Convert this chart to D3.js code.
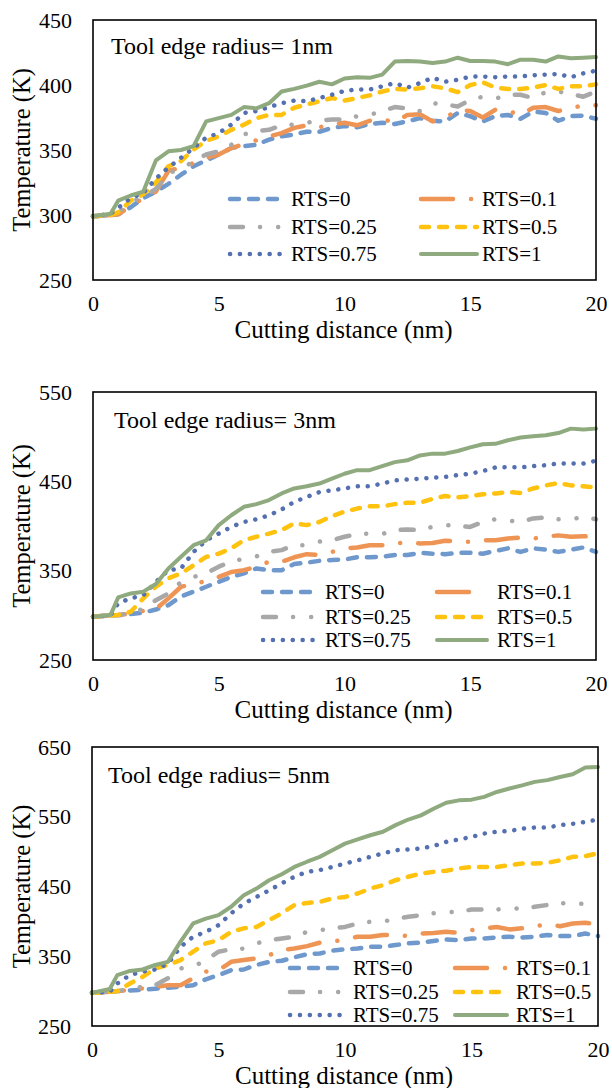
<!DOCTYPE html>
<html>
<head>
<meta charset="utf-8">
<script src="https://cdn.jsdelivr.net/npm/d3@7"></script>
<style>
  html, body { margin: 0; padding: 0; background: #fff; }
  svg { display: block; }
  text { font-family: "Liberation Serif", "Times New Roman", serif; fill: #000; }
</style>
</head>
<body>
<svg id="chart" width="612" height="1088"></svg>
<script>
// ---------------- DATA ----------------
const xValues = [0,0.7,1,1.5,2,2.5,3,3.5,4,4.5,5,5.5,6,6.5,7,7.5,8,8.5,9,9.5,10,10.5,11,11.5,12,12.5,13,13.5,14,14.5,15,15.5,16,16.5,17,17.5,18,18.5,19,19.5,20];
const seriesNames = ["RTS=0","RTS=0.1","RTS=0.25","RTS=0.5","RTS=0.75","RTS=1"];
const xTicks = [0,5,10,15,20];
const panelTitles = ["Tool edge radius= 1nm","Tool edge radius= 3nm","Tool edge radius= 5nm"];
const r1Ticks = [250,300,350,400,450];
const r3Ticks = [250,350,450,550];
const r5Ticks = [250,350,450,550,650];

// Tool edge radius = 1 nm
const r1_RTS0   = [299,300,300.5,306,313,318,324,331,337.5,342,346.5,351.5,353,354,358,360.5,362,364,364,367,368.5,367.5,370,371,370,372,374.5,372.5,372,378.5,376,372,376,377,374,379.5,378.5,372.5,376,376.5,374];
const r1_RTS01  = [299,300,300.5,307,313,318,334,336.5,340,344,346.5,351.5,354.5,357.5,360.5,363,367,369,367.5,369.5,371,369,372.5,373.5,371.5,377,377.5,372,374.5,381,380,375,381,380,377,382.5,383,380,382,384.5,384.5];
const r1_RTS025 = [299,300,302,310,314,320,332.5,335,341.5,346.5,349,354,362,364.5,365.5,369,369.5,371,372.5,373.5,373.5,376,377,380,383,382,380,386,385,383.5,388.5,391,389.5,392.5,392.5,390,394.5,395,393,391,395];
const r1_RTS05  = [299,300,302,311,316,325,337.5,341.5,350.5,357,360.5,365.5,369.5,374.5,377,377,382.5,385,387.5,390,388,390,392,395,397,396.5,397.5,399,397.5,394.5,400,402,398,397,397,398,400,397,399,399,400.5];
const r1_RTS075 = [299,301,305.5,313,317,328,336.5,344,351.5,359.5,363,369.5,378.5,380,383,386,388,387.5,390,392.5,395.5,396.5,396.5,399,401.5,398,401.5,405.5,402.5,404,406.5,406.5,406,406.5,406.5,407.5,408,408.5,406,409,411];
const r1_RTS1   = [299,301,311,315,318,342,349,350,353,372,374.5,377,383,382,386,395,397,399.5,402.5,400.5,405,406,405.5,408,418,418.5,418,417,418,421,418.5,418.5,418,416,419.5,419.5,418,422,420.5,421,421.5];

// Tool edge radius = 3 nm
const r3_RTS0   = [298.5,300,300.2,301.5,303,306.5,311.5,321,326.5,332,337.5,343,347,352.5,350.5,350.5,357.5,359,361,362,362.5,365,365,365.5,367.5,367.5,370,369,368.5,370,370,369,372,375,371,375,373.5,371,373.5,376,371];
const r3_RTS01  = [298.5,300,300.5,302,305,307,319,332,335,338.5,343,348.5,350.5,354.5,360,360,365,368.5,367.5,371,375,376,378.5,378.5,381,381,380.5,381,383.5,382.5,382.5,384,384,386,387,386,388,389.5,388,388.5,388];
const r3_RTS025 = [298.5,300,300.5,302,307.5,317,324.5,337.5,343,347,354.5,360,363.5,366,371,373,378.5,378.5,382.5,384,388,391,391.5,391,395.5,396,395.5,399,401,400,399,404.5,407.5,406,404.5,408.5,409.5,407.5,407.5,410,407.5];
const r3_RTS05  = [298.5,300,300.5,304,319,332,341.5,347,356,365.5,369,375,384,388,391.5,395.5,403,401,404.5,411,416,419.5,422,422,424.5,426,426,430.5,433.5,432,433.5,435.5,436.5,438,437,442,445.5,448,445.5,444.5,443];
const r3_RTS075 = [298.5,300,313.5,319,322.5,337.5,350.5,352.5,371,384,391.5,399,404.5,407.5,412,418.5,427,432.5,438,440,442,444.5,444.5,447.5,451,452,453,454,455,457,458.5,461.5,465.5,466,465.5,467,468,470,470,470,473];
const r3_RTS1   = [298.5,300.5,320,324.5,326.5,335,352.5,365.5,378.5,384,401,412,421.5,424.5,429,436.5,442,444.5,447.5,453,458.5,462.5,462.5,467,471.5,473.5,479,481,481,484,488,491.5,492,496,499,500.5,501.5,504,509,508,509];

// Tool edge radius = 5 nm
const r5_RTS0   = [297.5,299,300,301,302,303.5,305,306.5,308.5,317,323,330,331,337.5,342,343.5,348.5,353,354,358,360,361,363.5,363.5,366,368.5,369.5,372,374,373,375.5,375.5,377,378,377,378,380.5,379,379,382.5,379];
const r5_RTS01  = [297.5,299,300,302,304,306,308.5,308.5,318.5,328,330,342,344.5,347,351.5,359,361,364.5,369.5,371,374,378,378,380.5,380.5,379,382.5,383.5,385,383.5,387.5,390,392,388.5,390,393,396,393,397,398,396];
const r5_RTS025 = [297.5,299,300,303,306.5,308.5,318.5,332.5,335,344.5,356.5,360,361,368.5,373,375.5,378,385,387.5,390,392,397,399.5,399.5,404,406.5,409,411.5,413.5,413.5,417,417,417,418.5,418.5,421,423.5,426.5,424.5,425.5,424.5];
const r5_RTS05  = [297.5,299,300,311,320.5,332.5,337.5,344.5,356.5,368.5,373,385,390,392,402,411.5,423.5,426.5,428,433,435,440,447,452,459,464,468.5,471,472.5,476,478,478,478,480.5,483,483,484,487.5,492.5,493.5,497.5];
const r5_RTS075 = [297.5,299,311,323,328,331,339.5,363.5,378,385,394.5,411.5,425.5,435,444.5,454.5,464,471,473.5,478,483,487.5,492.5,497.5,502,503,504.5,508,514,517.5,521,526,528.5,529.5,533,534.5,534.5,538,540,542.5,546];
const r5_RTS1   = [297.5,303,323,329,331,337.5,342,371,397,404,409,421,437.5,447,459,467.5,478,485.5,492.5,502,511.5,517.5,523.5,528.5,538,546,552,561.5,570,573.5,574.5,578.5,585.5,590.5,595,600,602.5,607,611,620.5,621.5];

// ---------------- STYLE / LAYOUT ----------------
const styles = [
  { color: "#6F98CC", width: 4.5, dash: "9 10",               cap: "round" },
  { color: "#EE9556", width: 4.5, dash: "32 18 0.1 18",       cap: "round" },
  { color: "#A8A8A8", width: 4.5, dash: "13 17 0.1 18 0.1 17", cap: "round" },
  { color: "#FFC20E", width: 4.5, dash: "8 10",               cap: "round" },
  { color: "#5470B0", width: 4.5, dash: "0.1 9.8",            cap: "round" },
  { color: "#8FAA7E", width: 4,   dash: null,                 cap: "round" }
];

const panels = [
  { title: panelTitles[0], ticks: r1Ticks, domain: [250,450],
    series: [r1_RTS0,r1_RTS01,r1_RTS025,r1_RTS05,r1_RTS075,r1_RTS1],
    box: { l: 93, r: 596, t: 20, b: 280 }, titlePos: [111, 54],
    leg: { c1: [230,281,291], c2: [421,477,482], rows: [199,227,254] } },
  { title: panelTitles[1], ticks: r3Ticks, domain: [250,550],
    series: [r3_RTS0,r3_RTS01,r3_RTS025,r3_RTS05,r3_RTS075,r3_RTS1],
    box: { l: 93, r: 596, t: 392, b: 660 }, titlePos: [114, 428],
    leg: { c1: [263,316,325], c2: [437,487,497], rows: [592,617,640] } },
  { title: panelTitles[2], ticks: r5Ticks, domain: [250,650],
    series: [r5_RTS0,r5_RTS01,r5_RTS025,r5_RTS05,r5_RTS075,r5_RTS1],
    box: { l: 92, r: 598, t: 747, b: 1026 }, titlePos: [108, 783],
    leg: { c1: [290,343,353], c2: [455,507,516], rows: [968,992,1015] } }
];

const svg = d3.select("#chart");

panels.forEach(p => {
  const g = svg.append("g");
  const x = d3.scaleLinear().domain([0,20]).range([p.box.l, p.box.r]);
  const y = d3.scaleLinear().domain(p.domain).range([p.box.b, p.box.t]);

  // Lines
  const line = d3.line().x((d,i) => x(xValues[i])).y(d => y(d)).curve(d3.curveLinear);
  p.series.forEach((s, i) => {
    const st = styles[i];
    g.append("path")
      .datum(s)
      .attr("d", line)
      .attr("fill", "none")
      .attr("stroke", st.color)
      .attr("stroke-width", st.width)
      .attr("stroke-linecap", st.cap)
      .attr("stroke-linejoin", "round")
      .attr("stroke-dasharray", st.dash);
  });

  // Frame
  g.append("rect")
    .attr("x", p.box.l).attr("y", p.box.t)
    .attr("width", p.box.r - p.box.l).attr("height", p.box.b - p.box.t)
    .attr("fill", "none").attr("stroke", "#000").attr("stroke-width", 1.6);

  // Y axis tick labels
  const yAxis = d3.axisLeft(y).tickValues(p.ticks).tickSize(0).tickPadding(21);
  const ya = g.append("g").attr("transform", `translate(${p.box.l},0)`).call(yAxis);
  ya.select(".domain").remove();
  ya.selectAll("text").style("font-size", "22px").style("font-family", "'Liberation Serif', serif").attr("fill", "#000");

  // X axis tick labels
  const xAxis = d3.axisBottom(x).tickValues(xTicks).tickSize(0).tickPadding(15);
  const xa = g.append("g").attr("transform", `translate(0,${p.box.b})`).call(xAxis);
  xa.select(".domain").remove();
  xa.selectAll("text").style("font-size", "22px").style("font-family", "'Liberation Serif', serif").attr("fill", "#000");

  // Axis titles
  g.append("text")
    .attr("x", (p.box.l + p.box.r) / 2 - 1)
    .attr("y", p.box.b + 58)
    .attr("text-anchor", "middle")
    .style("font-size", "25px")
    .text("Cutting distance (nm)");
  g.append("text")
    .attr("transform", `translate(21,${(p.box.t + p.box.b) / 2}) rotate(-90)`)
    .attr("text-anchor", "middle")
    .attr("dominant-baseline", "central")
    .style("font-size", "24.5px")
    .text("Temperature (K)");

  // Panel title
  g.append("text")
    .attr("x", p.titlePos[0]).attr("y", p.titlePos[1])
    .style("font-size", "24px")
    .text(p.title);

  // Legend
  seriesNames.forEach((name, i) => {
    const col = i % 2 === 0 ? p.leg.c1 : p.leg.c2;
    const ry = p.leg.rows[Math.floor(i / 2)];
    const st = styles[i];
    g.append("line")
      .attr("x1", col[0]).attr("x2", col[1])
      .attr("y1", ry).attr("y2", ry)
      .attr("stroke", st.color)
      .attr("stroke-width", st.width)
      .attr("stroke-linecap", st.cap)
      .attr("stroke-dasharray", st.dash);
    g.append("text")
      .attr("x", col[2]).attr("y", ry)
      .attr("dominant-baseline", "central")
      .style("font-size", "21px")
      .text(name);
  });
});
</script>
</body>
</html>
